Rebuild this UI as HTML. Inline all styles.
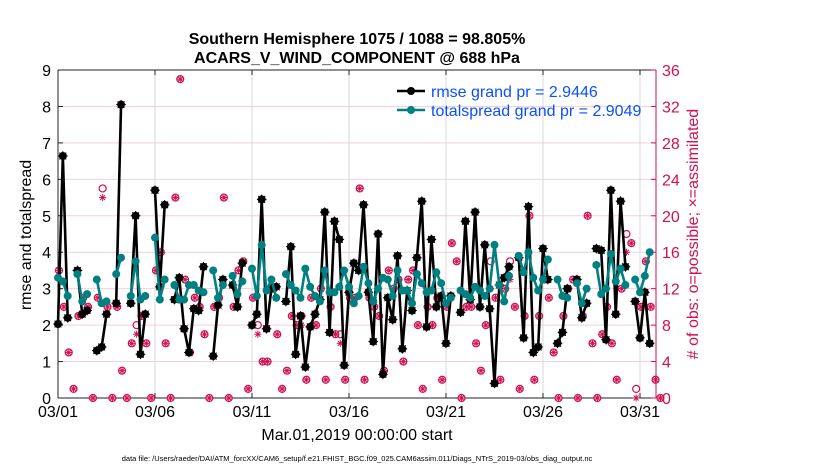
<!DOCTYPE html>
<html><head><meta charset="utf-8"><style>
body{margin:0;background:#fff;}
svg{display:block;font-family:"Liberation Sans",Arial,sans-serif;}
</style></head><body>
<svg id="chart" width="830" height="470" viewBox="0 0 830 470" xmlns="http://www.w3.org/2000/svg">
<text x="357" y="44" text-anchor="middle" font-size="16" font-weight="bold">Southern Hemisphere 1075 / 1088 = 98.805%</text>
<text x="357" y="63" text-anchor="middle" font-size="16" font-weight="bold">ACARS_V_WIND_COMPONENT @ 688 hPa</text>
<g id="grid"></g>
<g id="axes"></g>
<g id="marks"></g>
<text transform="translate(31,235) rotate(-90)" text-anchor="middle" font-size="16">rmse and totalspread</text>
<text transform="translate(698,234) rotate(-90)" text-anchor="middle" font-size="16" fill="#d01050"># of obs: o=possible; ×=assimilated</text>
<text x="357" y="440" text-anchor="middle" font-size="16">Mar.01,2019 00:00:00 start</text>
<text x="357" y="461" text-anchor="middle" font-size="7.5">data file: /Users/raeder/DAI/ATM_forcXX/CAM6_setup/f.e21.FHIST_BGC.f09_025.CAM6assim.011/Diags_NTrS_2019-03/obs_diag_output.nc</text>
<g>
<line x1="397" y1="91" x2="425" y2="91" stroke="#000" stroke-width="2.5"/>
<circle cx="411" cy="91" r="4" fill="#000"/>
<text x="431" y="97" font-size="16" fill="#0a50ff">rmse grand pr = 2.9446</text>
<line x1="397" y1="110" x2="425" y2="110" stroke="#008080" stroke-width="2.5"/>
<circle cx="411" cy="110" r="4" fill="#008080"/>
<text x="431" y="116" font-size="16" fill="#0a50ff">totalspread grand pr = 2.9049</text>
</g>
</svg>
<script>
const rmse=[2.03,6.64,2.2,null,3.5,2.3,2.4,null,1.3,1.4,2.3,null,2.6,8.05,null,2.6,5.0,1.2,2.3,null,5.7,3.05,5.3,null,2.7,3.3,1.9,1.25,2.45,2.4,3.6,null,1.15,2.55,3.25,null,3.1,2.5,3.7,null,2.0,2.3,5.45,1.9,3.0,3.05,null,2.65,4.15,1.2,2.25,0.85,1.95,2.3,2.7,5.1,1.8,4.85,4.35,0.9,2.9,3.7,3.5,5.3,2.9,1.55,4.5,0.65,2.75,2.15,3.9,1.35,2.95,2.4,3.85,5.4,1.95,4.35,2.5,2.8,1.5,2.8,null,2.35,4.85,2.7,5.1,2.5,4.2,2.45,0.4,3.1,3.3,3.6,null,3.85,1.65,5.25,1.25,1.4,4.1,3.25,null,1.5,1.8,3.0,null,3.25,2.2,2.6,null,4.1,4.05,1.6,5.7,2.3,5.4,3.6,null,2.65,1.65,2.9,1.5];
const spread=[3.3,3.2,2.8,null,3.4,2.65,2.85,null,3.25,2.6,2.65,null,3.4,3.85,null,2.8,3.75,2.7,2.8,null,4.4,2.7,3.25,null,3.1,2.7,2.7,3.1,3.1,2.95,2.9,null,3.5,2.75,3.1,null,3.35,2.85,3.2,null,3.55,2.8,4.2,2.95,3.25,2.75,null,3.4,3.1,2.95,2.75,3.55,3.05,2.8,2.65,3.5,2.9,2.9,3.05,3.5,3.05,2.6,2.8,3.6,3.15,2.65,3.0,3.3,3.25,2.8,3.5,2.95,2.95,2.6,3.4,3.15,2.9,2.95,3.45,3.15,2.6,2.75,null,2.95,2.85,2.75,3.05,2.95,2.8,3.0,4.2,3.1,2.65,3.35,null,3.9,3.45,4.0,3.3,2.95,3.25,3.8,null,3.25,2.8,2.75,null,3.15,2.6,3.0,null,3.65,2.85,3.0,3.95,3.2,3.55,3.1,null,3.25,2.9,3.35,4.0];
const obsPossible=[14,10,5,1,9,11,10,0,11,23,10,0,10,3,0,6,8,9,6,0,14,16,6,0,22,35,13,5,11,10,7,0,10,11,22,0,10,14,15,1,11,8,4,4,12,7,1,3,9,8,9,2,11,8,12,2,10,7,7,2,11,11,23,2,11,10,9,3,14,12,13,4,13,14,8,1,10,8,11,2,10,17,15,0,10,10,6,3,8,15,11,2,12,15,10,1,9,20,2,9,13,11,5,0,9,12,13,0,9,20,6,0,7,10,6,2,12,18,17,1,10,15,10,2,0];
const obsAssim=[14,10,5,1,9,11,10,0,11,22,10,0,10,3,0,6,7,9,6,0,14,16,6,0,22,35,13,5,11,10,7,0,10,11,22,0,10,14,15,1,11,7,4,4,12,7,1,3,9,8,8,2,11,8,12,2,10,7,6,2,11,11,23,2,11,10,9,3,14,12,13,4,13,14,8,1,10,8,11,2,10,17,15,0,10,10,6,3,8,12,11,2,12,13,10,1,9,20,2,9,13,11,5,0,9,12,13,0,9,20,6,0,7,10,6,2,12,16,17,0,10,15,10,2,0];
const xTickLabels=["03/01","03/06","03/11","03/16","03/21","03/26","03/31"];
const xTickSteps=[0,20,40,60,80,100,120];
const yLeftTicks=[0,1,2,3,4,5,6,7,8,9];
const yRightTicks=[0,4,8,12,16,20,24,28,32,36];

const NS="http://www.w3.org/2000/svg";
const X0=58,X1=656,Y0=398,Y1=70,STEP=4.85;
const xs=t=>X0+t*STEP;
const yl=v=>Y0-(v/9)*(Y0-Y1);
const yr=v=>Y0-(v/36)*(Y0-Y1);
function mk(tag,attrs,parent){const e=document.createElementNS(NS,tag);for(const k in attrs)e.setAttribute(k,attrs[k]);parent.appendChild(e);return e;}
const grid=document.getElementById('grid'),axes=document.getElementById('axes'),marks=document.getElementById('marks');
yRightTicks.forEach(v=>{if(v>0&&v<36){const l=mk('line',{x1:X0,x2:X1,y1:yr(v),y2:yr(v),stroke:'#f3cfdc','stroke-width':1},grid);

}});
xTickSteps.forEach(t=>{if(t>0){const l=mk('line',{x1:xs(t),x2:xs(t),y1:Y1,y2:Y0,stroke:'#d8d8d8','stroke-width':1},grid);

}});
mk('line',{x1:X0,x2:X1,y1:Y1,y2:Y1,stroke:'#222','stroke-width':1},axes);
mk('line',{x1:X0,x2:X1,y1:Y0,y2:Y0,stroke:'#222','stroke-width':1},axes);
mk('line',{x1:X0,x2:X0,y1:Y1,y2:Y0,stroke:'#222','stroke-width':1},axes);
mk('line',{x1:X1,x2:X1,y1:Y1,y2:Y0,stroke:'#d01050','stroke-width':1},axes);
yLeftTicks.forEach(v=>{mk('line',{x1:X0,x2:X0+5,y1:yl(v),y2:yl(v),stroke:'#222'},axes);
const t=mk('text',{x:X0-7,y:yl(v)+6,'text-anchor':'end','font-size':16},axes);t.textContent=v;

});
yRightTicks.forEach(v=>{mk('line',{x1:X1-5,x2:X1,y1:yr(v),y2:yr(v),stroke:'#d01050'},axes);
const t=mk('text',{x:X1+6,y:yr(v)+6,'font-size':16,fill:'#d01050'},axes);t.textContent=v;

});
xTickSteps.forEach((s,i)=>{mk('line',{x1:xs(s),x2:xs(s),y1:Y0,y2:Y0-5,stroke:'#222'},axes);
mk('line',{x1:xs(s),x2:xs(s),y1:Y1,y2:Y1+5,stroke:'#222'},axes);
const t=mk('text',{x:xs(s),y:Y0+19,'text-anchor':'middle','font-size':16},axes);t.textContent=xTickLabels[i];

});
function star(cx,cy,r,col,parent){for(let a=0;a<4;a++){const an=a*Math.PI/4;mk('line',{x1:cx-r*Math.cos(an),y1:cy-r*Math.sin(an),x2:cx+r*Math.cos(an),y2:cy+r*Math.sin(an),stroke:col,'stroke-width':1},parent);}}
obsPossible.forEach((v,t)=>{const g=mk('g',{},marks);


const cx=xs(t)+1;mk('circle',{cx:cx,cy:yr(v),r:3.5,fill:'none',stroke:'#d01050','stroke-width':1.2},g);
const a=obsAssim[t];star(cx,yr(a),3.5,'#d01050',g);});
function series(arr,col,name,dark){let seg=[];const segs=[];arr.forEach((v,t)=>{if(v==null){if(seg.length)segs.push(seg);seg=[];}else seg.push([xs(t),yl(v)]);});if(seg.length)segs.push(seg);
segs.forEach(s=>{const p=mk('polyline',{points:s.map(q=>q.join(',')).join(' '),fill:'none',stroke:col,'stroke-width':2.6,'stroke-linejoin':'round'},marks);

});
arr.forEach((v,t)=>{if(v==null)return;const c=mk('circle',{cx:xs(t),cy:yl(v),r:4,fill:col},marks);


if(dark)star(xs(t),yl(v),4.8,col,marks);});}
series(rmse,'#000','rmse',true);
series(spread,'#008080','totalspread',false);
</script>
</body></html>
